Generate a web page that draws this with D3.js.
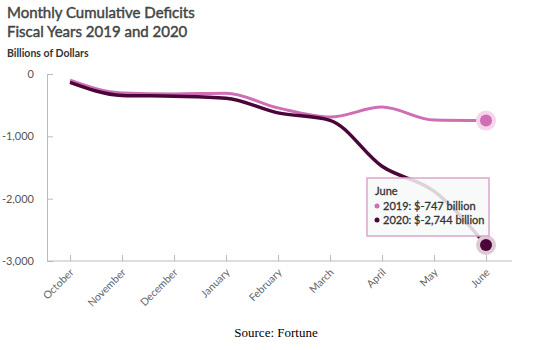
<!DOCTYPE html>
<html>
<head>
<meta charset="utf-8">
<script src="https://cdn.jsdelivr.net/npm/d3@7"></script>
<style>
  body { margin: 0; background: #fff; }
  svg { display: block; }
</style>
</head>
<body>
<div id="chart"></div>
<script>
// data
const months = ['October', 'November', 'December', 'January', 'February', 'March', 'April', 'May', 'June'];
const deficit2019 = [-100, -305, -319, -310, -544, -691, -531, -739, -747];
const deficit2020 = [-134, -343, -357, -389, -624, -743, -1481, -1880, -2744];
const yTicks = [0, -1000, -2000, -3000];

const width = 541;
const height = 350;
const col2019 = '#cf6db5';
const col2020 = '#4a0638';
const font = "Lato, 'Noto Sans', sans-serif";

//hyphen as minus sign, like the original
const myLocale = d3.formatLocale({decimal: '.', thousands: ',', grouping: [3], currency: ['$', ''], minus: '-'});
const myFormat = myLocale.format(',');

let svg = d3.select('#chart')
    .append('svg')
        .attr('width', width)
        .attr('height', height);

//titles (thin stroke to get a semibold look)
function titleText(txt, yPos) {
    svg.append('text')
        .attr('x', 7).attr('y', yPos)
        .style('font-family', font).style('font-size', '15px')
        .style('fill', '#444').style('stroke', '#444').style('stroke-width', 0.45)
        .text(txt);
}
titleText('Monthly Cumulative Deficits', 18);
titleText('Fiscal Years 2019 and 2020', 37);

svg.append('text')
    .attr('x', 7).attr('y', 57)
    .style('font-family', font).style('font-size', '10.5px').style('font-weight', 'bold').style('fill', '#333')
    .text('Billions of Dollars');

//scales
let x = d3.scalePoint()
    .domain(months)
    .range([70, 486]);

let y = d3.scaleLinear()
    .domain([-3000, 0])
    .range([261, 74]);

//x-Axis
let xAxis = svg.append('g')
    .attr('transform', 'translate(0, 261)')
    .call(d3.axisBottom(x).tickSize(-6).tickSizeOuter(0));
xAxis.select('.domain').attr('d', 'M47,0H512').attr('stroke', '#bbb');
xAxis.selectAll('.tick line').attr('stroke', '#bbb');
xAxis.selectAll('.tick text')
    .attr('y', 0).attr('dy', 0)
    .attr('transform', 'translate(4, 12) rotate(-45)')
    .style('text-anchor', 'end')
    .style('font-family', font).style('font-size', '10.5px').style('fill', '#666');

//y-Axis
let yAxis = svg.append('g')
    .attr('transform', 'translate(47, 0)')
    .call(d3.axisLeft(y).tickValues(yTicks).tickSize(-6).tickSizeOuter(0).tickFormat(myFormat));
yAxis.select('.domain').attr('stroke', '#bbb');
yAxis.selectAll('.tick text')
    .attr('x', -13)
    .style('font-family', font).style('font-size', '11px').style('fill', '#555');
yAxis.selectAll('.tick line').attr('stroke', '#bbb');

//lines
let line = d3.line()
    .x((d, i) => x(months[i]))
    .y(d => y(d))
    .curve(d3.curveMonotoneX);

svg.append('path')
    .datum(deficit2019)
    .attr('d', line)
    .style('fill', 'none').style('stroke', col2019).style('stroke-width', 3);

svg.append('path')
    .datum(deficit2020)
    .attr('d', line)
    .style('fill', 'none').style('stroke', col2020).style('stroke-width', 3.5);

//end markers
const last = months.length - 1;
[[deficit2019, col2019, '#f3d6eb'], [deficit2020, col2020, '#dccbd6']].forEach(([arr, c, halo]) => {
    svg.append('circle')
        .attr('cx', x(months[last])).attr('cy', y(arr[last]))
        .attr('r', 10).style('fill', halo);
    svg.append('circle')
        .attr('cx', x(months[last])).attr('cy', y(arr[last]))
        .attr('r', 6).style('fill', c);
});

//tooltip
let tip = svg.append('g').attr('transform', 'translate(367, 178)');
tip.append('rect')
    .attr('width', 122).attr('height', 58)
    .style('fill', 'rgba(247,248,248,0.85)')
    .style('stroke', '#dba6cc').style('stroke-width', 1.5);
tip.append('text')
    .attr('x', 8).attr('y', 17)
    .style('font-family', font).style('font-size', '11px')
    .style('fill', '#333').style('stroke', '#333').style('stroke-width', 0.3)
    .text('June');
[[deficit2019, col2019, '2019'], [deficit2020, col2020, '2020']].forEach(([arr, c, yr], i) => {
    tip.append('circle')
        .attr('cx', 10).attr('cy', 28 + i * 14).attr('r', 2.5).style('fill', c);
    tip.append('text')
        .attr('x', 16).attr('y', 32 + i * 14)
        .style('font-family', font).style('font-size', '11px')
        .style('fill', '#333').style('stroke', '#333').style('stroke-width', 0.3)
        .text(yr + ': $' + myFormat(arr[last]) + ' billion');
});

//source
svg.append('text')
    .attr('x', 276).attr('y', 337)
    .attr('text-anchor', 'middle')
    .style('font-family', "'Liberation Serif', 'Times New Roman', serif").style('font-size', '13px').style('fill', '#000')
    .text('Source: Fortune');
</script>
</body>
</html>
